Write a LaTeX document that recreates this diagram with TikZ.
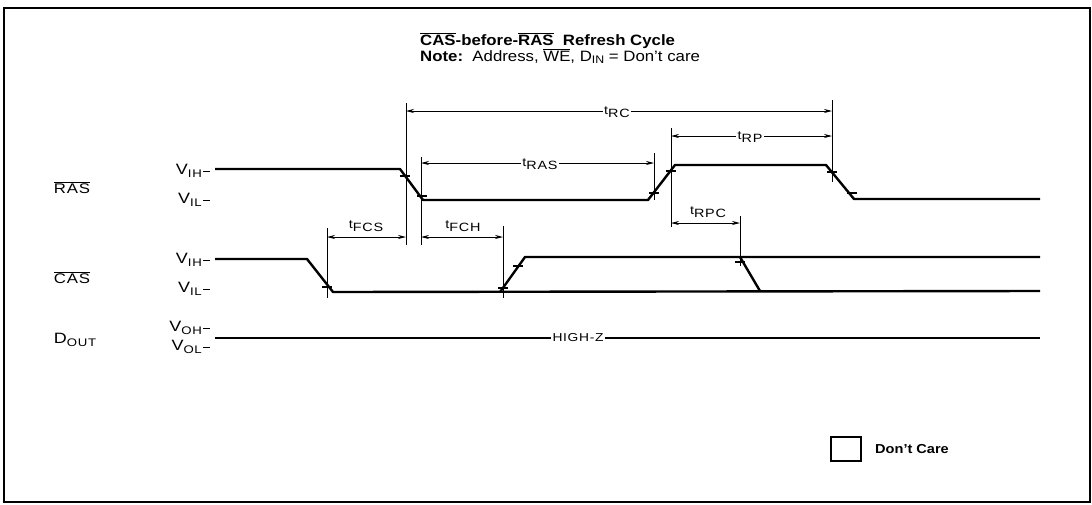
\documentclass[tikz,border=0pt]{standalone}
\usepackage{fontspec}
\setmainfont{Liberation Sans}[FakeStretch=1.12]
\newfontfamily\lblfont{Liberation Sans}[FakeStretch=1.2,LetterSpace=6]
\usetikzlibrary{arrows.meta}
\tikzset{
  wave/.style={line width=2.4pt, line join=round},
  dimline/.style={line width=0.8pt},
  dimarrow/.style={line width=0.8pt,{Stealth[length=8pt,width=4pt]}-{Stealth[length=8pt,width=4pt]}},
  tickmark/.style={line width=1.2pt},
  onlbl/.style={fill=white,inner sep=1.5pt},
  offlbl/.style={inner sep=1pt},
  sig/.style={anchor=center,inner sep=0pt},
  lev/.style={anchor=east,inner sep=0pt},
}
\newcommand{\tlab}[1]{{\lblfont\fontsize{12}{12}\selectfont t\raisebox{-3pt}{#1}}}
\newcommand{\vlab}[1]{{\lblfont\fontsize{15}{15}\selectfont V\raisebox{-2.5pt}{\fontsize{11}{11}\selectfont #1}}}
\newcommand{\ovl}[1]{$\overline{\mbox{#1}}$}
\begin{document}
\begin{tikzpicture}[x=1pt,y=-1pt]
\useasboundingbox (0,0) rectangle (1092,504);
\draw[line width=1.5pt] (4,8) rectangle (1090,502);

% titles
\node[anchor=base west,inner sep=0pt,font=\fontsize{15}{15}\selectfont\bfseries] (title) at (420,45) {\ovl{CAS}-before-\ovl{RAS}\ \ Refresh Cycle};
\node[anchor=base west,inner sep=0pt,font=\fontsize{15}{15}\selectfont] (note) at (420,61) {\textbf{Note:}\ \ Address, \ovl{WE}, D\raisebox{-2.5pt}{\fontsize{11}{11}\selectfont IN} = Don't care};

% signal names
\node[sig,font=\lblfont\fontsize{14}{14}\selectfont] (ras) at (72,188) {\ovl{RAS}};
\node[sig,font=\lblfont\fontsize{14}{14}\selectfont] (cas) at (72,278) {\ovl{CAS}};
\node[sig] (dout) at (75,340) {{\lblfont\fontsize{15}{15}\selectfont D\raisebox{-2.5pt}{\fontsize{11}{11}\selectfont OUT}}};

% level labels
\foreach \nm/\yy/\tx in {rih/171/IH, ril/200/IL, cih/260/IH, cil/289/IL, doh/328/OH, dol/347/OL}{
  \node[lev] (\nm) at (202,\yy) {\vlab{\tx}};
  \draw[line width=0.8pt] (\nm.east) ++(1,0) -- ++(7,0);
}

% RAS waveform
\draw[wave] (215,169) -- (400,169) -- (423,200) -- (648,200) -- (675,165) -- (826,165) -- (854,199) -- (1040,199);
% CAS waveform
\draw[wave] (215,259) -- (307,259) -- (333,292) -- (1040,291);
\draw[wave] (500,292) -- (525,257) -- (1040,257);
\draw[wave] (740,257) -- (760,291);
% DOUT
\node[onlbl,font=\lblfont\fontsize{11.5}{11.5}\selectfont] (hiz) at (578,338) {HIGH-Z};
\coordinate (dl) at (215,338);
\coordinate (dr) at (1040,338);
\draw[line width=2pt] (dl) -- (hiz.west);
\draw[line width=2pt] (hiz.east) -- (dr);

% vertical reference lines
\coordinate (a1) at (406,103); \coordinate (a2) at (406,245);
\coordinate (b1) at (421,157); \coordinate (b2) at (421,245);
\coordinate (c1) at (832,100); \coordinate (c2) at (832,182);
\coordinate (d1) at (654,153); \coordinate (d2) at (654,200);
\coordinate (e1) at (671,128); \coordinate (e2) at (671,227);
\coordinate (f1) at (740,216); \coordinate (f2) at (740,266);
\coordinate (g1) at (327,228); \coordinate (g2) at (327,298);
\coordinate (h1) at (503,226); \coordinate (h2) at (503,298);
\foreach \p in {a,b,c,d,e,f,g,h}{\draw[dimline] (\p1) -- (\p2);}

% dimension arrows
\coordinate (rcL) at (406,111); \coordinate (rcR) at (832,111);
\draw[dimarrow] (rcL) -- (rcR);
\node[onlbl] (trc) at (617,112) {\tlab{RC}};
\coordinate (rasL) at (421,163); \coordinate (rasR) at (654,163);
\draw[dimarrow] (rasL) -- (rasR);
\node[onlbl] (tras) at (540,164) {\tlab{RAS}};
\coordinate (rpL) at (671,136); \coordinate (rpR) at (832,136);
\draw[dimarrow] (rpL) -- (rpR);
\node[onlbl] (trp) at (750,137) {\tlab{RP}};
\coordinate (rpcL) at (671,223); \coordinate (rpcR) at (740,223);
\draw[dimarrow] (rpcL) -- (rpcR);
\node[offlbl] (trpc) at (708,212) {\tlab{RPC}};
\coordinate (fcsL) at (327,237); \coordinate (fcsR) at (406,237);
\draw[dimarrow] (fcsL) -- (fcsR);
\node[offlbl] (tfcs) at (366,226) {\tlab{FCS}};
\coordinate (fchL) at (421,237); \coordinate (fchR) at (503,237);
\draw[dimarrow] (fchL) -- (fchR);
\node[offlbl] (tfch) at (463,226) {\tlab{FCH}};

% tick marks
\foreach \tx/\ty in {405/176, 422/196, 654/193, 671/171, 832/172, 852/193, 327/287, 503/288, 518/266, 740/262}{
  \draw[tickmark] (\tx-5,\ty) -- (\tx+5,\ty);
}

% legend
\node[draw,line width=2.2pt,minimum width=30pt,minimum height=24pt,inner sep=0pt] (dcbox) at (846,449) {};
\node[anchor=west,inner sep=0pt,font=\fontsize{13}{13}\selectfont\bfseries] (dctext) at (875,449) {Don't Care};
\end{tikzpicture}
\end{document}
